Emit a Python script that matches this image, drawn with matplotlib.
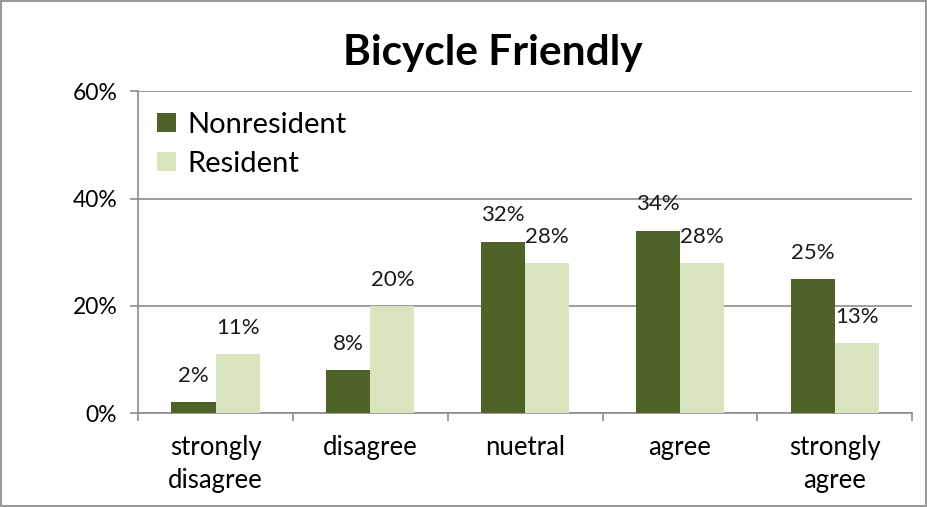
import matplotlib.pyplot as plt
import numpy as np
from matplotlib.patches import Rectangle

categories = ["strongly\ndisagree", "disagree", "nuetral", "agree", "strongly\nagree"]
nonresident = [2, 8, 32, 34, 25]
resident = [11, 20, 28, 28, 13]
yticks = [0, 20, 40, 60]
ytick_labels = ["0%", "20%", "40%", "60%"]

dark = "#4F6228"
light = "#D7E4BD"
grey = "#8C8C8C"

plt.rcParams['font.family'] = ['Lato', 'DejaVu Sans']

fig = plt.figure(figsize=(9.27, 5.07), dpi=100)
ax = fig.add_axes([0.149, 0.185, 0.835, 0.635])

x = np.arange(len(categories))
w = 0.285
b1 = ax.bar(x - w/2, nonresident, w, color=dark, label="Nonresident", zorder=3)
b2 = ax.bar(x + w/2, resident, w, color=light, label="Resident", zorder=3)

for bars, vals in ((b1, nonresident), (b2, resident)):
    for r, v in zip(bars, vals):
        ax.annotate(f"{v}%", (r.get_x() + r.get_width()/2, v), xytext=(0, 19),
                    textcoords="offset points", ha="center", va="center",
                    fontsize=16, color="#1a1a1a", zorder=4)

ax.set_xlim(-0.5, len(categories) - 0.5)
ax.set_ylim(0, 60)
ax.set_yticks(yticks)
ax.set_yticklabels(ytick_labels, fontsize=16.5)
ax.yaxis.grid(True, color=grey, linewidth=1.2, zorder=0)
ax.set_xticks(x)
ax.set_xticklabels(categories, fontsize=18.5, linespacing=1.38)
ax.tick_params(axis='x', length=0, pad=16)
ax.set_xticks(np.arange(-0.5, len(categories)), minor=True)
ax.tick_params(axis='x', which='minor', length=6, color=grey, width=1.2)
ax.tick_params(axis='y', length=6, color=grey, width=1.2, pad=9)

for s in ("top", "right"):
    ax.spines[s].set_visible(False)
for s in ("left", "bottom"):
    ax.spines[s].set_color(grey)
    ax.spines[s].set_linewidth(1.2)

ax.legend(loc="upper left", frameon=False, fontsize=21, handlelength=0.65,
          handleheight=0.65, handletextpad=0.4, labelspacing=0.45,
          bbox_to_anchor=(-0.01, 1.018))

fig.text(0.532, 0.895, "Bicycle Friendly", ha="center", va="center",
         fontsize=30.5, fontweight="bold")

fig.patches.append(Rectangle((0.001, 0.001), 0.998, 0.997, transform=fig.transFigure,
                             fill=False, edgecolor="#999999", linewidth=1.5))

fig.savefig("out.png", dpi=100)
